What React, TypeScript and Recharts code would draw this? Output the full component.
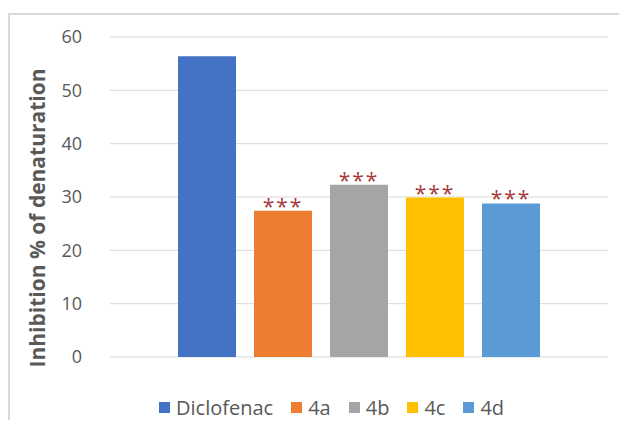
import React from 'react';
import { BarChart, Bar, XAxis, YAxis, CartesianGrid } from 'recharts';

// one group, each compound is its own series (as in the Excel source)
const compounds = ['Diclofenac', '4a', '4b', '4c', '4d'];
const inhibition = [56.4, 27.4, 32.3, 29.9, 28.8];
const significance = ['', '***', '***', '***', '***'];
const colors = ['#4472C4', '#ED7D31', '#A5A5A5', '#FFC000', '#5B9BD5'];
const yTicks = [0, 10, 20, 30, 40, 50, 60];

const row: Record<string, string | number> = { name: '' };
compounds.forEach((c, i) => {
  row[c] = inhibition[i];
});
const data = [row];

const FONT = '"Open Sans", Calibri, sans-serif';
const GREY_TEXT = '#595959';

const starsFor = (i: number) => (props: any) => {
  const { x, y, width } = props;
  if (!significance[i]) return null;
  return (
    <text
      x={Number(x) + Number(width) / 2}
      y={Number(y) + 3}
      textAnchor="middle"
      fontFamily={FONT}
      fontSize={21}
      letterSpacing={2}
      fill="#A63A3A"
    >
      {significance[i]}
    </text>
  );
};

export default function App() {
  return (
    <div style={{ position: 'relative', width: 611, height: 412, fontFamily: FONT }}>
      <div
        style={{
          position: 'absolute',
          left: 0,
          top: 5,
          width: 611,
          height: 407,
          borderTop: '2px solid #d9d9d9',
          borderLeft: '2px solid #d9d9d9',
          boxSizing: 'border-box',
        }}
      />
      <BarChart
        width={611}
        height={412}
        data={data}
        margin={{ top: 29, right: 11, left: 0, bottom: 63 }}
        barGap={18}
        style={{ position: 'absolute', left: 0, top: 0 }}
      >
        <CartesianGrid vertical={false} stroke="#d9d9d9" strokeWidth={1} />
        <XAxis dataKey="name" hide />
        <YAxis
          domain={[0, 60]}
          ticks={yTicks}
          width={102}
          axisLine={false}
          tickLine={false}
          tickSize={0}
          tickMargin={28}
          tick={{ fontSize: 18, fill: GREY_TEXT, fontFamily: FONT }}
          label={{
            content: () => (
              <text
                x={37}
                y={210}
                transform="rotate(-90 37 210)"
                textAnchor="middle"
                fontFamily={FONT}
                fontWeight="bold"
                fontSize={21}
                fill={GREY_TEXT}
              >
                Inhibition % of denaturation
              </text>
            ),
          }}
        />
        {compounds.map((c, i) => (
          <Bar
            key={c}
            dataKey={c}
            fill={colors[i]}
            barSize={58}
            isAnimationActive={false}
            label={starsFor(i)}
          />
        ))}
      </BarChart>
      <div
        style={{
          position: 'absolute',
          left: 151,
          top: 387,
          height: 24,
          display: 'flex',
          alignItems: 'center',
          fontSize: 20,
          color: GREY_TEXT,
          whiteSpace: 'nowrap',
        }}
      >
        {compounds.map((c, i) => (
          <div key={c} style={{ display: 'flex', alignItems: 'center', marginRight: 18 }}>
            <span style={{ width: 11, height: 11, background: colors[i], marginRight: 6 }} />
            <span>{c}</span>
          </div>
        ))}
      </div>
    </div>
  );
}
